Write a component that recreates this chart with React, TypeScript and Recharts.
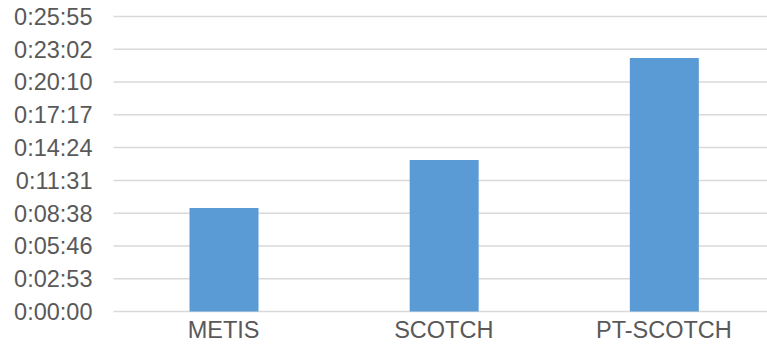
import { BarChart, Bar, XAxis, YAxis, CartesianGrid } from 'recharts';

// run times in seconds
const categories = ['METIS', 'SCOTCH', 'PT-SCOTCH'];
const runTimes = [546, 799, 1336];

// axis runs in steps of 0.002 day (172.8 s)
const yTicks = [0, 172.8, 345.6, 518.4, 691.2, 864, 1036.8, 1209.6, 1382.4, 1555.2];
const yTickLabels = ['0:00:00', '0:02:53', '0:05:46', '0:08:38', '0:11:31', '0:14:24', '0:17:17', '0:20:10', '0:23:02', '0:25:55'];

const data = categories.map((name, i) => ({ name, time: runTimes[i] }));

const labelFor = (v: number) => {
    const i = yTicks.indexOf(v);
    return i >= 0 ? yTickLabels[i] : '';
};

export default function App() {
    return (
        <div style={{ position: 'fixed', left: 0, top: 0, width: 767, height: 351, overflow: 'hidden', background: '#fff' }}>
            <BarChart
                width={774}
                height={351}
                data={data}
                margin={{ top: 16.5, right: 0, left: 0, bottom: 0 }}
            >
                <CartesianGrid vertical={false} stroke="#d9d9d9" strokeWidth={1.5} />
                <XAxis
                    dataKey="name"
                    height={39.5}
                    axisLine={false}
                    tickLine={false}
                    tickMargin={4}
                    tick={{ fill: '#595959', fontSize: 23.5, fontFamily: 'Liberation Sans, Arial, sans-serif' }}
                />
                <YAxis
                    width={113.5}
                    domain={[0, 1555.2]}
                    ticks={yTicks}
                    tickFormatter={labelFor}
                    axisLine={false}
                    tickLine={false}
                    tickMargin={15}
                    interval={0}
                    tick={{ fill: '#595959', fontSize: 23.5, fontFamily: 'Liberation Sans, Arial, sans-serif' }}
                />
                <Bar dataKey="time" fill="#5b9bd5" barSize={69} isAnimationActive={false} />
            </BarChart>
        </div>
    );
}
